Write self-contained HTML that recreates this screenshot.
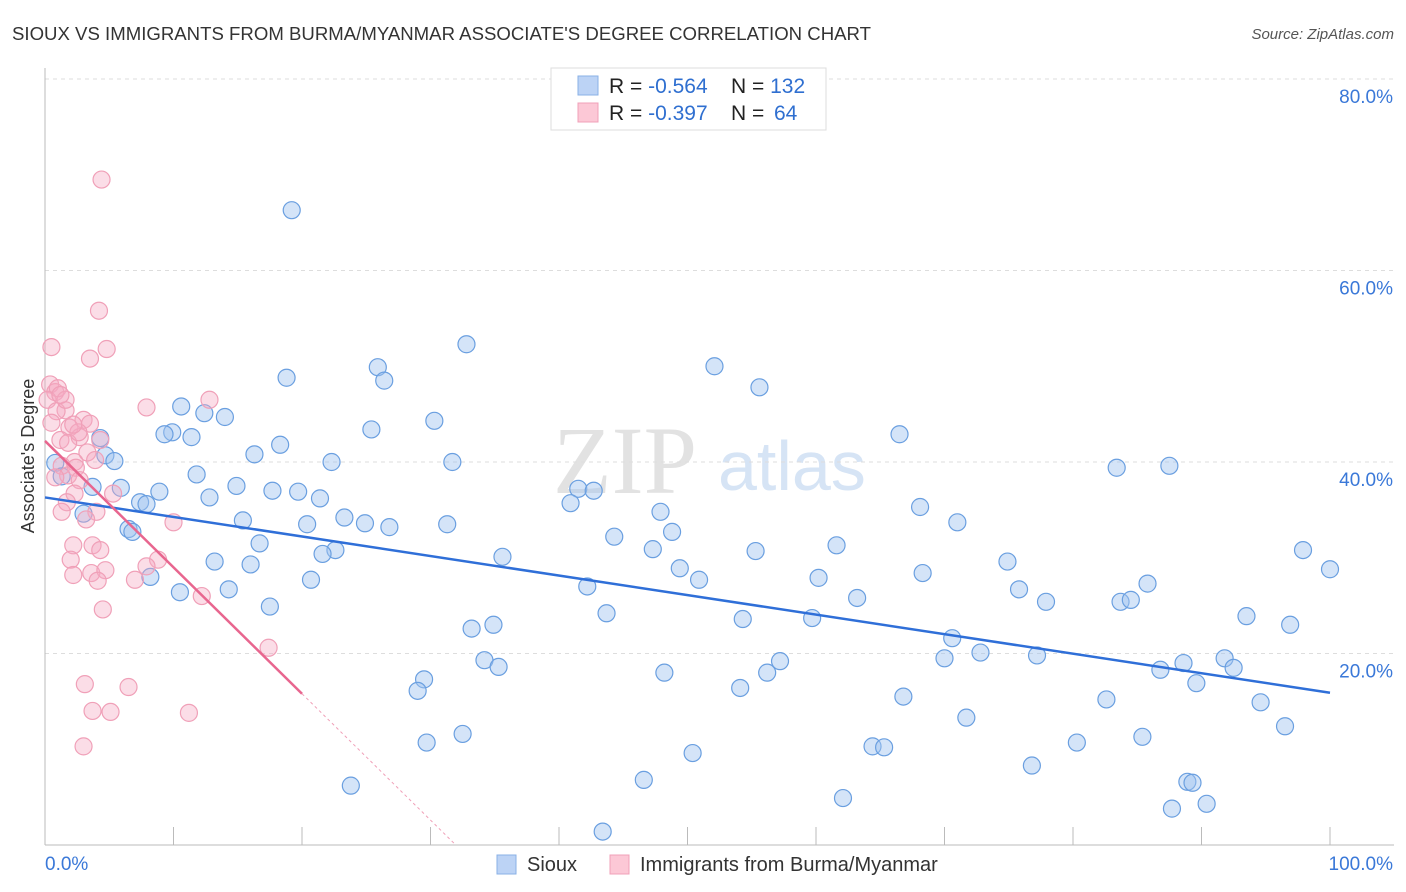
<!DOCTYPE html>
<html><head><meta charset="utf-8"><style>
body{margin:0;background:#fff;font-family:"Liberation Sans",sans-serif;}
svg{display:block}
</style></head><body>
<svg id="chart" width="1406" height="892" viewBox="0 0 1406 892">
<text x="12" y="40" font-size="18" fill="#333" textLength="859" lengthAdjust="spacingAndGlyphs">SIOUX VS IMMIGRANTS FROM BURMA/MYANMAR ASSOCIATE'S DEGREE CORRELATION CHART</text>
<text x="1394" y="39" font-size="15" fill="#555" font-style="italic" text-anchor="end">Source: ZipAtlas.com</text>
<g>
<text x="553" y="493" font-size="96" font-family="Liberation Serif,serif" fill="#e2e2e2">ZIP</text>
<text x="718" y="490" font-size="70" fill="#d6e4f5">atlas</text>
</g>
<g id="grid"></g>
<g id="axes"></g>
<g id="pts"></g>
<g id="trend"></g>
<text transform="translate(34,456) rotate(-90)" font-size="18" fill="#333" text-anchor="middle">Associate's Degree</text>
<g>
<rect x="551" y="68" width="275" height="62" fill="#fff" stroke="#ddd"/>
<rect x="578" y="76" width="20" height="19" fill="#bcd3f5" stroke="#8ab0e6"/>
<rect x="578" y="103" width="20" height="19" fill="#fcc8d6" stroke="#f0a0b8"/>
<text x="609" y="93" font-size="21" fill="#222">R = <tspan fill="#2f6fd0">-0.564</tspan><tspan x="731">N = </tspan><tspan fill="#2f6fd0">132</tspan></text>
<text x="609" y="120" font-size="21" fill="#222">R = <tspan fill="#2f6fd0"> -0.397</tspan><tspan x="731">N = </tspan><tspan fill="#2f6fd0" x="774">64</tspan></text>
</g>
<g>
<rect x="497" y="855" width="19" height="19" fill="#bcd3f5" stroke="#8ab0e6"/>
<text x="527" y="871" font-size="20" fill="#333">Sioux</text>
<rect x="610" y="855" width="19" height="19" fill="#fcc8d6" stroke="#f0a0b8"/>
<text x="640" y="871" font-size="20" fill="#333">Immigrants from Burma/Myanmar</text>
</g>
</svg>
<script>
const blueX=[19.2,32.8,52.1,25.9,55.6,18.8,26.4,10.6,12.4,14.0,30.3,25.4,66.5,9.9,9.3,11.4,4.3,18.3,16.3,4.7,5.4,22.3,31.7,0.8,83.4,87.5,11.8,1.3,3.7,5.9,14.9,17.7,19.7,41.5,42.7,8.9,12.8,21.4,7.4,7.9,40.9,68.1,3.0,15.4,23.3,24.9,31.3,47.9,71.0,26.8,20.4,6.5,6.8,48.8,44.3,16.7,61.6,22.6,21.6,47.3,55.3,35.6,13.2,16.0,97.9,74.9,49.4,100,8.2,68.3,20.7,50.9,60.2,14.3,42.2,85.8,10.5,75.8,63.2,77.9,17.5,43.7,83.7,84.5,54.3,59.7,93.5,96.9,33.2,34.9,70.6,91.8,34.2,35.3,57.2,56.2,48.2,70.0,72.8,77.2,88.6,92.5,86.8,89.6,29.5,29.0,54.1,66.8,82.6,94.6,71.7,96.5,32.5,29.7,64.4,65.3,80.3,85.4,50.4,76.8,46.6,23.8,88.9,89.3,62.1,90.4,87.7,43.4];
const blueY=[66.3,52.3,50.0,49.9,47.8,48.8,48.5,45.8,45.1,44.7,44.3,43.4,42.9,43.1,42.9,42.6,42.5,41.8,40.8,40.7,40.1,40.0,40.0,39.9,39.4,39.6,38.7,38.5,37.4,37.3,37.5,37.0,36.9,37.2,37.0,36.9,36.3,36.2,35.8,35.6,35.7,35.3,34.6,33.9,34.2,33.6,33.5,34.8,33.7,33.2,33.5,33.0,32.7,32.7,32.2,31.5,31.3,30.8,30.4,30.9,30.7,30.1,29.6,29.3,30.8,29.6,28.9,28.8,28.0,28.4,27.7,27.7,27.9,26.7,27.0,27.3,26.4,26.7,25.8,25.4,24.9,24.2,25.4,25.6,23.6,23.7,23.9,23.0,22.6,23.0,21.6,19.5,19.3,18.6,19.2,18.0,18.0,19.5,20.1,19.8,19.0,18.5,18.3,16.9,17.3,16.1,16.4,15.5,15.2,14.9,13.3,12.4,11.6,10.7,10.3,10.2,10.7,11.3,9.6,8.3,6.8,6.2,6.6,6.5,4.9,4.3,3.8,1.4];
const pinkX=[4.4,4.2,0.5,4.8,3.5,0.4,0.8,1.0,0.2,12.8,7.9,1.6,3.0,3.5,0.9,1.9,4.3,2.7,1.2,1.8,3.3,2.3,1.3,2.4,1.8,0.8,2.7,5.3,2.3,1.7,4.0,3.2,1.3,10.0,3.7,4.3,2.2,2.0,8.8,7.9,3.6,4.7,2.2,4.1,7.0,12.2,4.5,17.4,3.1,6.5,3.7,5.1,11.2,3.0,1.6,2.6,0.5,1.2,2.2,3.9];
const pinkY=[69.5,55.8,52.0,51.8,50.8,48.1,47.3,47.7,46.5,46.5,45.7,45.4,44.4,44.0,45.3,43.6,42.3,42.6,42.3,42.0,41.0,40.0,39.6,39.4,38.6,38.4,38.1,36.7,36.7,35.8,34.8,34.0,34.8,33.7,31.3,30.8,31.3,29.8,29.8,29.1,28.4,28.7,28.2,27.6,27.7,26.0,24.6,20.6,16.8,16.5,14.0,13.9,13.8,10.3,46.5,43.1,44.1,47.0,43.9,40.2];
const yTicks=[20,40,60,80];
const xTickVals=[0,10,20,30,40,50,60,70,80,90,100];
const blueTrend=[36.3,15.9];
const pinkTrend=[42.2,15.8];
const pinkSolidEnd=20;

const X0=45,X1=1330,Y0=845,PER=9.575;
const sx=v=>X0+(X1-X0)*v/100;
const sy=v=>Y0-v*PER;
const NS="http://www.w3.org/2000/svg";
function mk(tag,attrs,parent){const e=document.createElementNS(NS,tag);for(const k in attrs)e.setAttribute(k,attrs[k]);parent.appendChild(e);return e;}
const grid=document.getElementById('grid'),axes=document.getElementById('axes'),pts=document.getElementById('pts'),trend=document.getElementById('trend');
yTicks.forEach(t=>{
  const l=mk('line',{x1:X0,x2:1394,y1:sy(t),y2:sy(t),stroke:'#ddd','stroke-dasharray':'4,4'},grid);
  
  
  const tx=mk('text',{x:1393,y:sy(t)+24,'font-size':19,fill:'#3a78d8','text-anchor':'end'},axes);
  tx.textContent=t.toFixed(1)+'%';
  
  
});
const ax=mk('line',{x1:X0,x2:X0,y1:68,y2:Y0,stroke:'#bbb'},axes);


const bx=mk('line',{x1:X0,x2:1394,y1:Y0,y2:Y0,stroke:'#bbb'},axes);


xTickVals.forEach(t=>{
  const l=mk('line',{x1:sx(t),x2:sx(t),y1:Y0,y2:Y0-18,stroke:'#bbb'},axes);
  
  
});
const xl0=mk('text',{x:45,y:870,'font-size':19,fill:'#3a78d8'},axes);xl0.textContent='0.0%';


const xl1=mk('text',{x:1393,y:870,'font-size':19,fill:'#3a78d8','text-anchor':'end'},axes);xl1.textContent='100.0%';


blueX.forEach((v,i)=>{
  const c=mk('circle',{cx:sx(v),cy:sy(blueY[i]),r:8.5,fill:'rgba(160,196,240,0.45)',stroke:'#6a9fe0','stroke-width':1.2},pts);
  
  
});
pinkX.forEach((v,i)=>{
  const c=mk('circle',{cx:sx(v),cy:sy(pinkY[i]),r:8.5,fill:'rgba(245,170,195,0.4)',stroke:'#f0a0b8','stroke-width':1.2},pts);
  
  
});
const bl=mk('line',{x1:sx(0),y1:sy(blueTrend[0]),x2:sx(100),y2:sy(blueTrend[1]),stroke:'#2f6fd8','stroke-width':2.5},trend);


const pslope=(pinkTrend[1]-pinkTrend[0])/pinkSolidEnd;
const xz=-pinkTrend[0]/pslope;
const pl=mk('line',{x1:sx(0),y1:sy(pinkTrend[0]),x2:sx(pinkSolidEnd),y2:sy(pinkTrend[1]),stroke:'#e8668f','stroke-width':2.5},trend);


const pd=mk('line',{x1:sx(pinkSolidEnd),y1:sy(pinkTrend[1]),x2:sx(xz),y2:sy(0),stroke:'#f0a0b8','stroke-width':1,'stroke-dasharray':'3,3'},trend);


</script>
</body></html>
